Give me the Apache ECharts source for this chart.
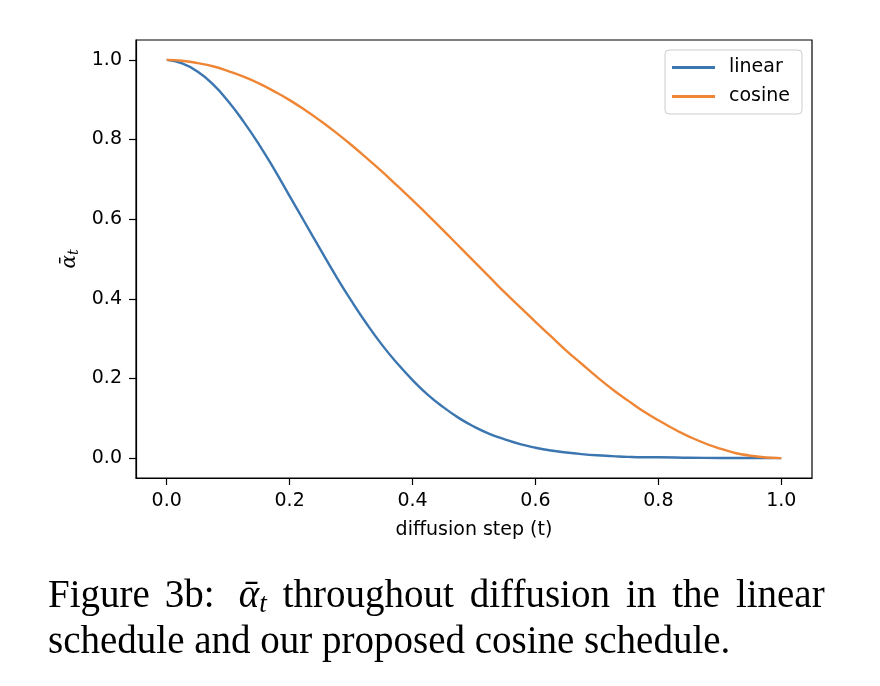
<!DOCTYPE html>
<html>
<head>
<meta charset="utf-8">
<script src="https://cdn.jsdelivr.net/npm/echarts@6/dist/echarts.min.js"></script>
<style>
  html, body { margin: 0; padding: 0; background: #fff; }
  #main { width: 880px; height: 686px; }
</style>
</head>
<body>
<div id="main"></div>
<script>
// values, step 0.025
var steps = [0, 0.025, 0.05, 0.075, 0.1, 0.125, 0.15, 0.175, 0.2, 0.225, 0.25, 0.275, 0.3, 0.325,
             0.35, 0.375, 0.4, 0.425, 0.45, 0.475, 0.5, 0.525, 0.55, 0.575, 0.6, 0.625, 0.65,
             0.675, 0.7, 0.725, 0.75, 0.775, 0.8, 0.85, 0.9, 0.95, 1.0];
var linearVals = [1.0, 0.991, 0.971, 0.939, 0.896, 0.845, 0.788, 0.725, 0.658, 0.591, 0.524, 0.458, 0.396, 0.338,
                  0.285, 0.238, 0.196, 0.159, 0.128, 0.101, 0.079, 0.061, 0.047, 0.035, 0.026, 0.019, 0.014,
                  0.010, 0.007, 0.005, 0.003, 0.002, 0.002, 0.001, 0.0003, 0.0001, 0.0];
var cosineVals = [1.0, 0.998, 0.992, 0.984, 0.972, 0.958, 0.941, 0.921, 0.899, 0.874, 0.847, 0.818, 0.787, 0.754,
                  0.720, 0.684, 0.648, 0.610, 0.572, 0.533, 0.494, 0.455, 0.416, 0.379, 0.342, 0.306, 0.270,
                  0.237, 0.204, 0.173, 0.145, 0.118, 0.095, 0.054, 0.024, 0.006, 0.0];
var tickVals = [0, 0.2, 0.4, 0.6, 0.8, 1.0];

function pairs(xs, ys) {
  return xs.map(function (x, i) { return [x, ys[i]]; });
}

var chart = echarts.init(document.getElementById('main'));
var tickFont = { fontFamily: 'DejaVu Sans', fontSize: 19, color: '#000' };
var fmt = function (v) { return v.toFixed(1); };
var capFont = 'Liberation Serif';

var option = {
  animation: false,
  backgroundColor: '#fff',
  grid: {
    left: 136, right: 68, top: 40, bottom: 208,
    show: true, borderColor: '#000', borderWidth: 1.2, backgroundColor: 'transparent'
  },
  legend: {
    right: 78, top: 50,
    orient: 'vertical',
    itemWidth: 43, itemHeight: 3, itemGap: 10,
    padding: [8, 12, 8, 7],
    borderColor: '#cccccc', borderWidth: 1, borderRadius: 4,
    backgroundColor: '#fff',
    icon: 'rect',
    textStyle: { fontFamily: 'DejaVu Sans', fontSize: 19, color: '#000', padding: [0, 0, 0, 9] },
    data: ['linear', 'cosine']
  },
  xAxis: {
    type: 'value', min: -0.05, max: 1.05,
    splitLine: { show: false },
    axisLine: { show: true, onZero: false, lineStyle: { color: '#000', width: 1.2 } },
    axisTick: { show: true, customValues: tickVals, length: 7, inside: false, lineStyle: { color: '#000', width: 1.2 } },
    axisLabel: Object.assign({ customValues: tickVals, margin: 14, formatter: fmt }, tickFont),
    name: 'diffusion step (t)',
    nameLocation: 'middle', nameGap: 43,
    nameTextStyle: { fontFamily: 'DejaVu Sans', fontSize: 19, color: '#000' }
  },
  yAxis: {
    type: 'value', min: -0.05, max: 1.05,
    splitLine: { show: false },
    axisLine: { show: true, onZero: false, lineStyle: { color: '#000', width: 1.2 } },
    axisTick: { show: true, customValues: tickVals, length: 7, inside: false, lineStyle: { color: '#000', width: 1.2 } },
    axisLabel: Object.assign({ customValues: tickVals, margin: 14, formatter: fmt }, tickFont),
    name: '{a|ᾱ}{s|t}',
    nameLocation: 'middle', nameGap: 54, nameRotate: 90,
    nameTextStyle: {
      rich: {
        a: { fontFamily: 'DejaVu Serif', fontStyle: 'italic', fontSize: 20, color: '#000' },
        s: { fontFamily: 'DejaVu Serif', fontStyle: 'italic', fontSize: 14, color: '#000', verticalAlign: 'bottom', padding: [9, 0, 0, 0] }
      }
    }
  },
  series: [
    {
      name: 'linear', type: 'line', smooth: true, showSymbol: false,
      data: pairs(steps, linearVals),
      itemStyle: { color: '#3b76b0' },
      lineStyle: { color: '#3b76b0', width: 2.4 }
    },
    {
      name: 'cosine', type: 'line', smooth: true, showSymbol: false,
      data: pairs(steps, cosineVals),
      itemStyle: { color: '#ef8636' },
      lineStyle: { color: '#ef8636', width: 2.4 }
    }
  ],
  graphic: [
    {
      type: 'text', left: 48, top: 577,
      style: {
        text: '{r|Figure}{w1| }{r|3b:}{w2| }{i|ᾱ}{sub|t}{g| }{r|throughout}{g| }{r|diffusion}{g| }{r|in}{g| }{r|the}{g| }{r|linear}',
        rich: {
          r: { fontFamily: capFont, fontSize: 39, fill: '#000' },
          g: { fontFamily: capFont, fontSize: 39, width: 16 },
          w1: { fontFamily: capFont, fontSize: 39, width: 15 },
          w2: { fontFamily: capFont, fontSize: 39, width: 24 },
          i: { fontFamily: capFont, fontStyle: 'italic', fontSize: 39, fill: '#000' },
          sub: { fontFamily: capFont, fontStyle: 'italic', fontSize: 27, fill: '#000', verticalAlign: 'bottom', padding: [16, 0, 0, 0] }
        }
      }
    },
    {
      type: 'text', left: 48, top: 623,
      style: { text: 'schedule and our proposed cosine schedule.', fontFamily: capFont, fontSize: 39, fill: '#000' }
    }
  ]
};

chart.setOption(option);
</script>
</body>
</html>
